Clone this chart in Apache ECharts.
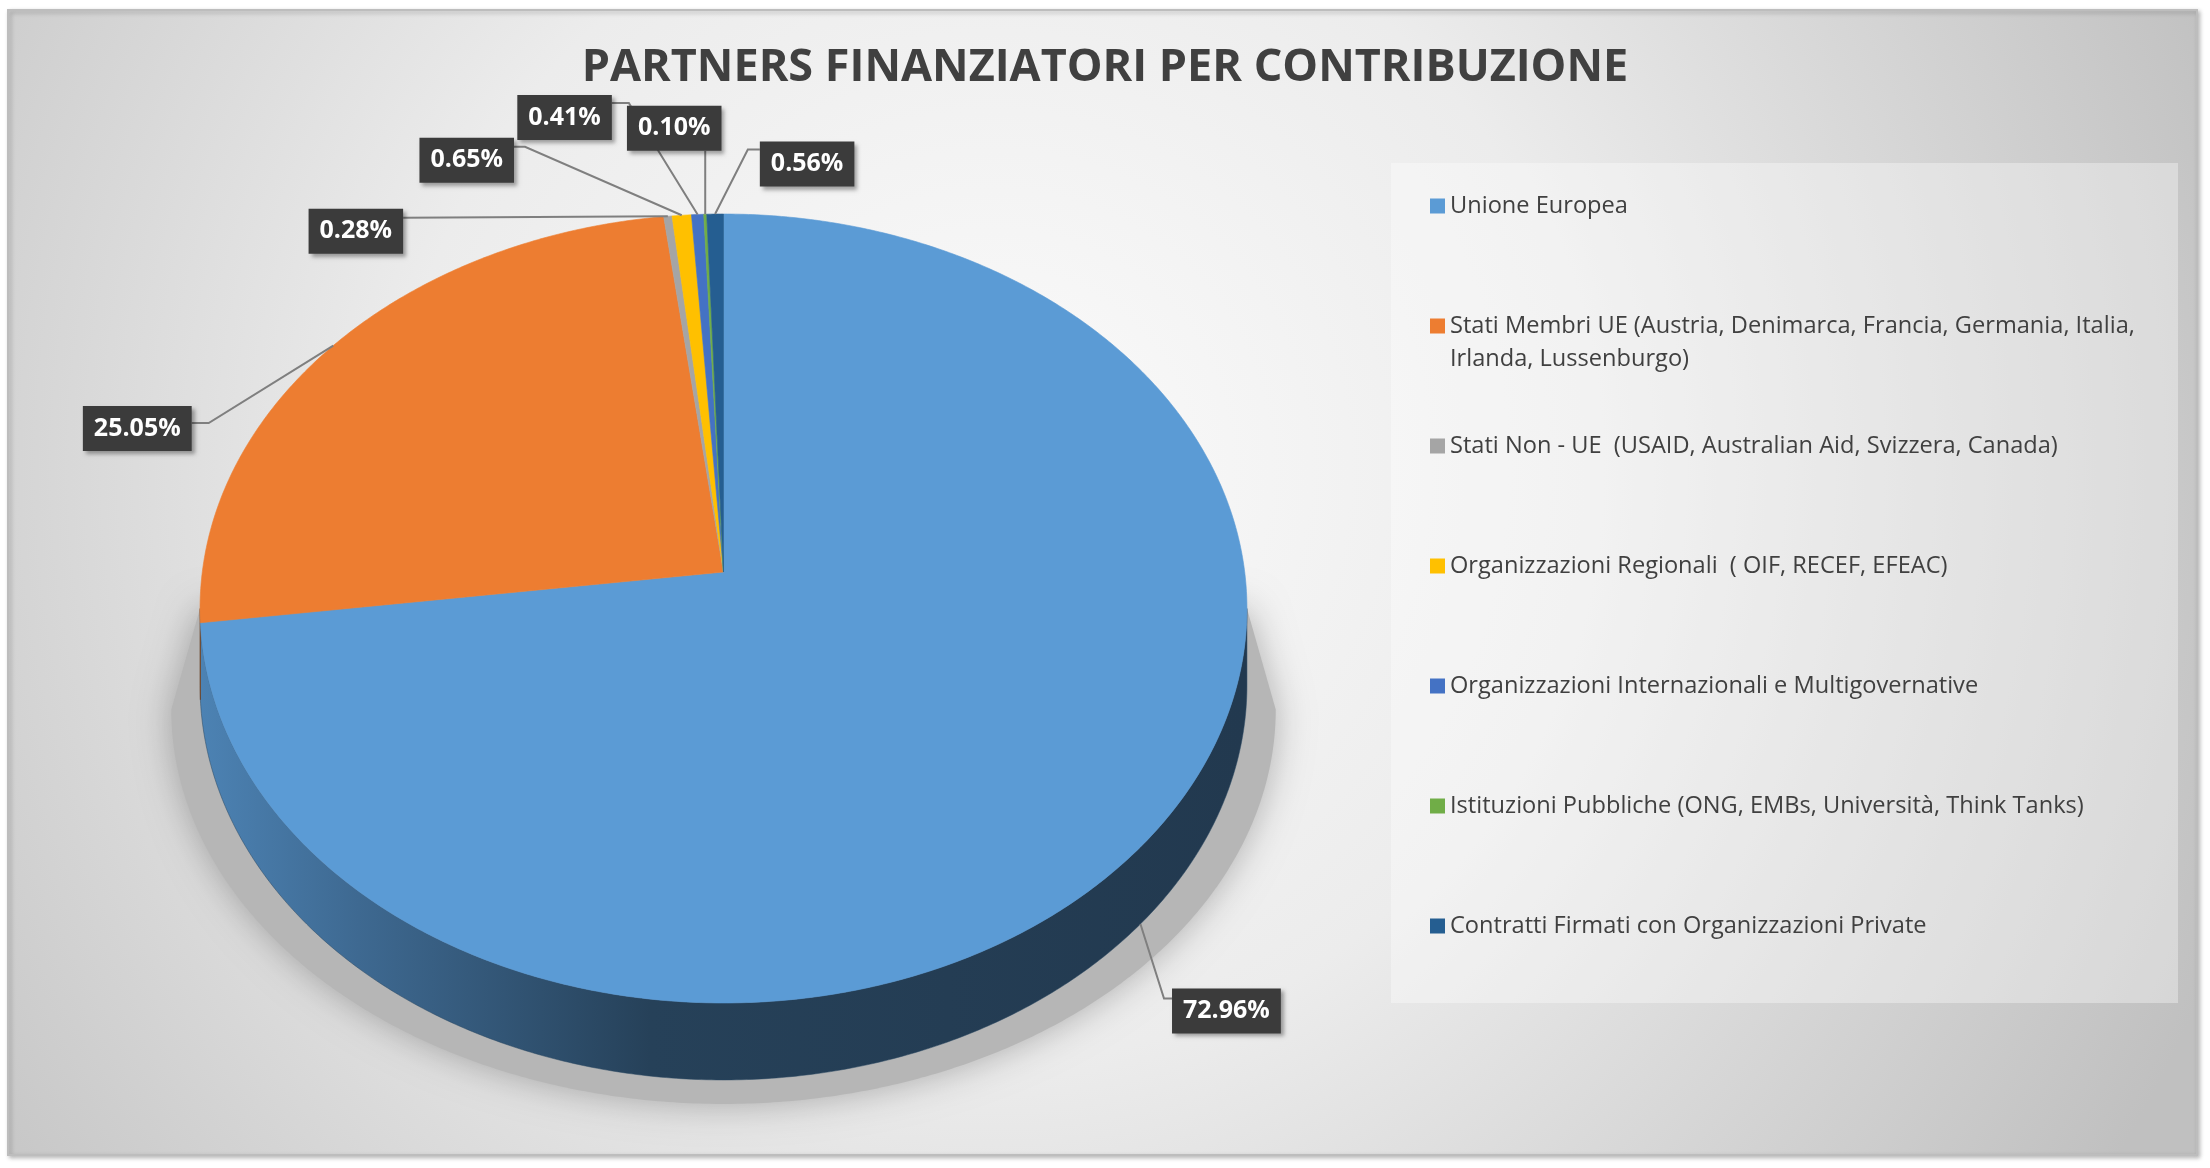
<!DOCTYPE html>
<html>
<head>
<meta charset="utf-8">
<script src="https://cdn.jsdelivr.net/npm/echarts@6/dist/echarts.min.js"></script>
<style>
html,body{margin:0;padding:0;background:#ffffff;}
#main{width:2210px;height:1168px;}
</style>
</head>
<body>
<div id="main"></div>
<script>
// ---------- DATA ----------
const titleText = 'PARTNERS FINANZIATORI PER CONTRIBUZIONE';
const categories = [
  'Unione Europea',
  'Stati Membri UE (Austria, Denimarca, Francia, Germania, Italia, Irlanda, Lussenburgo)',
  'Stati Non - UE  (USAID, Australian Aid, Svizzera, Canada)',
  'Organizzazioni Regionali  ( OIF, RECEF, EFEAC)',
  'Organizzazioni Internazionali e Multigovernative',
  'Istituzioni Pubbliche (ONG, EMBs, Università, Think Tanks)',
  'Contratti Firmati con Organizzazioni Private'
];
const values = [72.96, 25.05, 0.28, 0.65, 0.41, 0.10, 0.56];
const colors = ['#5B9BD5', '#ED7D31', '#A5A5A5', '#FFC000', '#4472C4', '#70AD47', '#255E91'];

// ---------- LAYOUT / STYLE ----------
const PIE = {cx: 723.5, cy: 572, a: 521.2, b: 391.1, k: 0.0925, depth: 77};
// label box placement relative to slice anchor
const labelLayout = [
  {dx: 86,   dy: 87,  side: 'l', at: 10, elbow: 8},
  {dx: -196, dy: 83,  side: 'r', at: 17, elbow: 17},
  {dx: -312, dy: 15,  side: 'r', at: 9,  elbow: 0},
  {dx: -215, dy: -55, side: 'r', at: 9,  elbow: 11},
  {dx: -133, dy: -97, side: 'r', at: 8,  elbow: 17},
  {dx: -31,  dy: -86, side: 'b'},
  {dx: 92,   dy: -50, side: 'l', at: 8,  elbow: 12}
];
const LABEL_FONT = 'bold 25px "Open Sans"';
const LABEL_PAD = [9, 11];
const LABEL_LH = 27;

const mctx = document.createElement('canvas').getContext('2d');
function hasFont(f) {
  const s = 'abcdefghijklmnopqrstuvwxyzABCDEFGHIJ0123';
  mctx.font = '40px monospace';
  const w1 = mctx.measureText(s).width;
  mctx.font = '40px "' + f + '", monospace';
  return mctx.measureText(s).width !== w1;
}
const titleFamily = hasFont('Liberation Sans Narrow') ? 'Liberation Sans Narrow' : 'Open Sans';
mctx.font = 'bold 100px "' + titleFamily + '"';
const titleSize = Math.round(100 * 1046 / mctx.measureText(titleText).width);
const titleLH = Math.round(titleSize * 1.2);

const total = values.reduce((s, v) => s + v, 0);
const starts = [];
(function () { let acc = 0; values.forEach(v => { starts.push(acc / total * 2 * Math.PI); acc += v; }); })();
const LO = Math.acos(-PIE.k), HI = 2 * Math.PI - LO;

function proj(t, dy) {
  const u = Math.sin(t), v = Math.cos(t), d = 1 + PIE.k * v;
  return [PIE.cx + PIE.a * u / d, PIE.cy + dy - PIE.b * v / d];
}
function arc(a0, a1, dy) {
  const n = Math.max(2, Math.ceil(Math.abs(a1 - a0) / (Math.PI / 360)) + 1);
  const pts = [];
  for (let j = 0; j < n; j++) pts.push(proj(a0 + (a1 - a0) * j / (n - 1), dy));
  return pts;
}
function shade(hex, f) {
  const n = parseInt(hex.slice(1), 16);
  const r = (n >> 16) & 255, g = (n >> 8) & 255, b = n & 255;
  return 'rgb(' + Math.round(r * f) + ',' + Math.round(g * f) + ',' + Math.round(b * f) + ')';
}
function sideFill(c) {
  return new echarts.graphic.LinearGradient(PIE.cx - PIE.a, 0, PIE.cx + PIE.a, 0, [
    {offset: 0, color: shade(c, 0.84)},
    {offset: 0.15, color: shade(c, 0.68)},
    {offset: 0.29, color: shade(c, 0.55)},
    {offset: 0.43, color: shade(c, 0.42)},
    {offset: 1, color: shade(c, 0.37)}
  ], true);
}

function makeRender(i) {
  return function (params, api) {
    const v = api.value(0);
    const s = starts[i], e = s + v / total * 2 * Math.PI;
    const col = colors[i];
    const children = [];
    if (i === 0) {
      // soft cast shadow under the pie
      const sh = arc(LO, HI, PIE.depth).map(p => [PIE.cx + (p[0] - PIE.cx) * 1.055, p[1] + 24]);
      sh.unshift(proj(LO, 0));
      sh.push(proj(HI, 0));
      children.push({type: 'polygon', z2: 0, shape: {points: sh},
        style: {fill: '#b6b6b6', shadowBlur: 36, shadowColor: 'rgba(0,0,0,0.28)'}});
    }
    const a0 = Math.max(s, LO), a1 = Math.min(e, HI);
    if (a1 > a0) {
      const pts = arc(a0, a1, 0).concat(arc(a1, a0, PIE.depth));
      children.push({type: 'polygon', z2: 2, shape: {points: pts},
        style: {fill: sideFill(col), stroke: shade(col, 0.45), lineWidth: 0.5}});
    }
    const top = [[PIE.cx, PIE.cy]].concat(arc(s, e, 0));
    children.push({type: 'polygon', z2: 10, shape: {points: top},
      style: {fill: col, stroke: col, lineWidth: 0.6}});

    // label
    const m = (s + e) / 2;
    const anchor = (m >= LO && m <= HI) ? proj(m, PIE.depth) : proj(m, 0);
    const L = labelLayout[i];
    const txt = values[i].toFixed(2) + '%';
    mctx.font = LABEL_FONT;
    const bw = mctx.measureText(txt).width + 2 * LABEL_PAD[1];
    const bh = LABEL_LH + 2 * LABEL_PAD[0];
    const bx = anchor[0] + L.dx, by = anchor[1] + L.dy;
    const btop = by - bh / 2;
    let pts;
    if (L.side === 'b') {
      pts = [anchor, [anchor[0], by + bh / 2]];
    } else if (L.side === 'l') {
      const end = [bx - bw / 2, btop + L.at];
      pts = [anchor, [end[0] - L.elbow, end[1]], end];
    } else {
      const end = [bx + bw / 2, btop + L.at];
      pts = [anchor, [end[0] + L.elbow, end[1]], end];
    }
    children.push({type: 'polyline', z2: 25, shape: {points: pts},
      style: {stroke: '#7f7f7f', lineWidth: 2, fill: null}});
    children.push({type: 'text', z2: 30, x: bx, y: by,
      style: {text: txt, font: LABEL_FONT, fill: '#ffffff', align: 'center', verticalAlign: 'middle',
        lineHeight: LABEL_LH, padding: LABEL_PAD, backgroundColor: '#3b3b3b',
        shadowBlur: 4, shadowOffsetX: 3, shadowOffsetY: 3, shadowColor: 'rgba(0,0,0,0.35)'}});
    return {type: 'group', children: children};
  };
}

const series = categories.map((name, i) => ({
  type: 'custom',
  name: name,
  coordinateSystem: 'none',
  silent: true,
  itemStyle: {color: colors[i]},
  data: [[values[i]]],
  renderItem: makeRender(i)
}));

const LEG = {left: 1430, first: 206, step: 120, lh: 33};
const legends = categories.map((name, i) => {
  const two = i === 1;
  return {
    data: [two ? {name: name, icon: 'path://M0,0L0.01,0M0,9L15,9L15,24L0,24ZM0,66L0.01,66'} : name],
    left: LEG.left,
    top: LEG.first + LEG.step * i - LEG.lh / 2,
    orient: 'vertical',
    icon: 'rect',
    itemWidth: 15,
    itemHeight: two ? 66 : 15,
    itemGap: 0,
    padding: 0,
    selectedMode: false,
    itemStyle: {borderWidth: 0},
    textStyle: {fontFamily: 'Open Sans', fontSize: 23.6, color: '#404040', lineHeight: LEG.lh,
      width: 715, overflow: 'break'}
  };
});

const chart = echarts.init(document.getElementById('main'), null, {renderer: 'canvas'});
chart.setOption({
  animation: false,
  backgroundColor: '#ffffff',
  title: {
    text: titleText,
    left: 'center',
    top: 68 - titleLH / 2,
    padding: 0,
    textStyle: {fontFamily: titleFamily, fontWeight: 'bold', fontSize: titleSize, color: '#404040', lineHeight: titleLH}
  },
  legend: legends,
  graphic: [
    {type: 'rect', z: -10, shape: {x: 8, y: 10, width: 2189, height: 1145},
      style: {
        fill: new echarts.graphic.RadialGradient(0.45, 0.4, 1.15, [
          {offset: 0, color: '#fbfbfb'},
          {offset: 0.45, color: '#ececec'},
          {offset: 1, color: '#c0c0c0'}
        ]),
        stroke: '#bdbdbd', lineWidth: 2,
        shadowBlur: 4, shadowOffsetX: 2, shadowOffsetY: 2, shadowColor: 'rgba(0,0,0,0.25)'
      }},
    {type: 'rect', z: -9, shape: {x: 1391, y: 163, width: 787, height: 840},
      style: {fill: 'rgba(255,255,255,0.35)'}}
  ],
  series: series
});
</script>
</body>
</html>
